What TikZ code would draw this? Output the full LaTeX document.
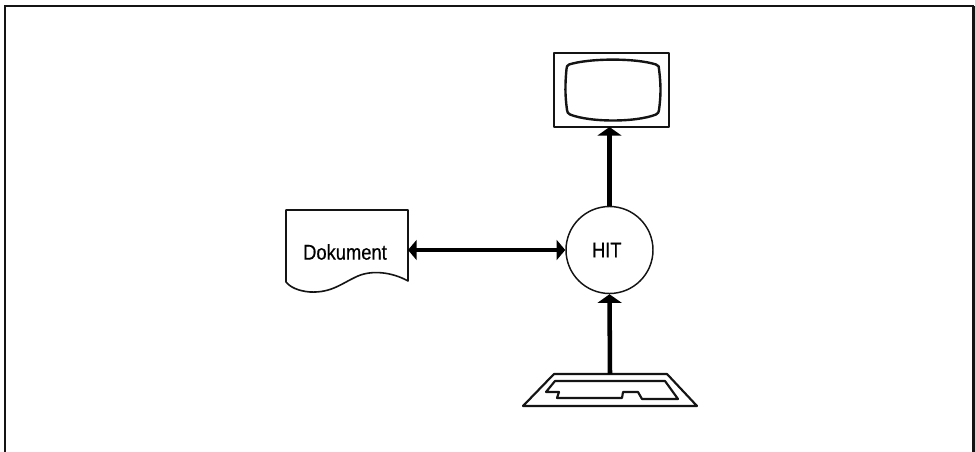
\documentclass[tikz,border=0pt]{standalone}
\usepackage{fontspec}
\setmainfont{Liberation Sans}
\newfontfamily\labfont[FakeBold=0.5]{Liberation Sans}
\usetikzlibrary{arrows.meta}
\tikzset{
  x=0.75pt,y=-0.75pt,
  ink/.style={draw=black!92,line join=round},
  anchorbox/.style={inner sep=0pt,outer sep=0pt,minimum width=#1},
  link/.style={draw=black,line width=3.6pt},
  headup/.style={-{Triangle[length=6.5pt,width=18pt]}},
  headboth/.style={{Triangle[length=6.5pt,width=15pt]}-{Triangle[length=6.5pt,width=15pt]}},
  label/.style={font=\labfont\fontsize{16pt}{18pt}\selectfont,inner sep=0pt},
}
\begin{document}
\begin{tikzpicture}
\useasboundingbox (0,0) rectangle (975,452);
\fill[white] (0,0) rectangle (975,452);
% frame, open at the bottom
\draw[ink,line width=1.4pt] (4,6) -- (974,6);
\draw[ink,line width=2pt] (5,452) -- (5,6);
\draw[ink,line width=2pt] (973.5,6) -- (973.5,452);
% monitor
\draw[ink,line width=1.8pt] (554,53) rectangle (669,127);
\draw[ink,line width=1.8pt] (569,64.5)
  .. controls (590,58) and (636,58) .. (656,64.5)
  .. controls (659,65.5) and (659,67) .. (659,69)
  .. controls (661,85) and (661,95) .. (659,110)
  .. controls (659,112) and (658,113.5) .. (656,114.5)
  .. controls (636,122.5) and (590,122.5) .. (570,114.5)
  .. controls (568,113.5) and (567,112) .. (567,110)
  .. controls (565,95) and (565,85) .. (566.5,69)
  .. controls (566.5,67) and (567,65.5) .. (569,64.5) -- cycle;
\node[anchorbox=115*0.75pt,minimum height=74*0.75pt] (monitor) at (611.5,90) {};
% central circle
\node[circle,draw=black!92,line width=1.1pt,minimum size=87*0.75pt,inner sep=0pt,label,text=black] (hit) at (609.5,250) {\hspace*{-4pt}\scalebox{0.85}[1]{HIT}};
% document
\draw[ink,line width=1.2pt] (286,210) -- (408,210) -- (408,281)
  .. controls (392,272) and (372,270) .. (358,276)
  .. controls (342,283) and (332,293) .. (310,292)
  .. controls (298,291) and (290,287) .. (286,282) -- cycle;
\node[anchorbox=122*0.75pt,minimum height=71*0.75pt] (doc) at (347,250) {};
\node[label,text=black] (doclabel) at (345,252) {\scalebox{0.86}[1]{Dokument}};
% keyboard
\draw[ink,line width=1.6pt] (554,374) -- (667,374) -- (697,406) -- (523,406) -- cycle;
\draw[ink,line width=1.6pt] (555,381) -- (665,381) -- (678,399) -- (642,399) -- (638,392) -- (623,392) -- (622,398) -- (557,398) -- (559,392) -- (546,392) -- cycle;
\node[anchorbox=113*0.75pt,minimum height=32*0.75pt,anchor=north] (keyboard) at (610,374) {};
% connectors
\draw[link,headup] (hit.north) -- (hit.north |- monitor.south);
\draw[link,headboth] (doc.east) -- (hit.west);
\draw[link,line width=3.4pt,headup] (keyboard.north) -- (hit.south) ;
\end{tikzpicture}
\end{document}
